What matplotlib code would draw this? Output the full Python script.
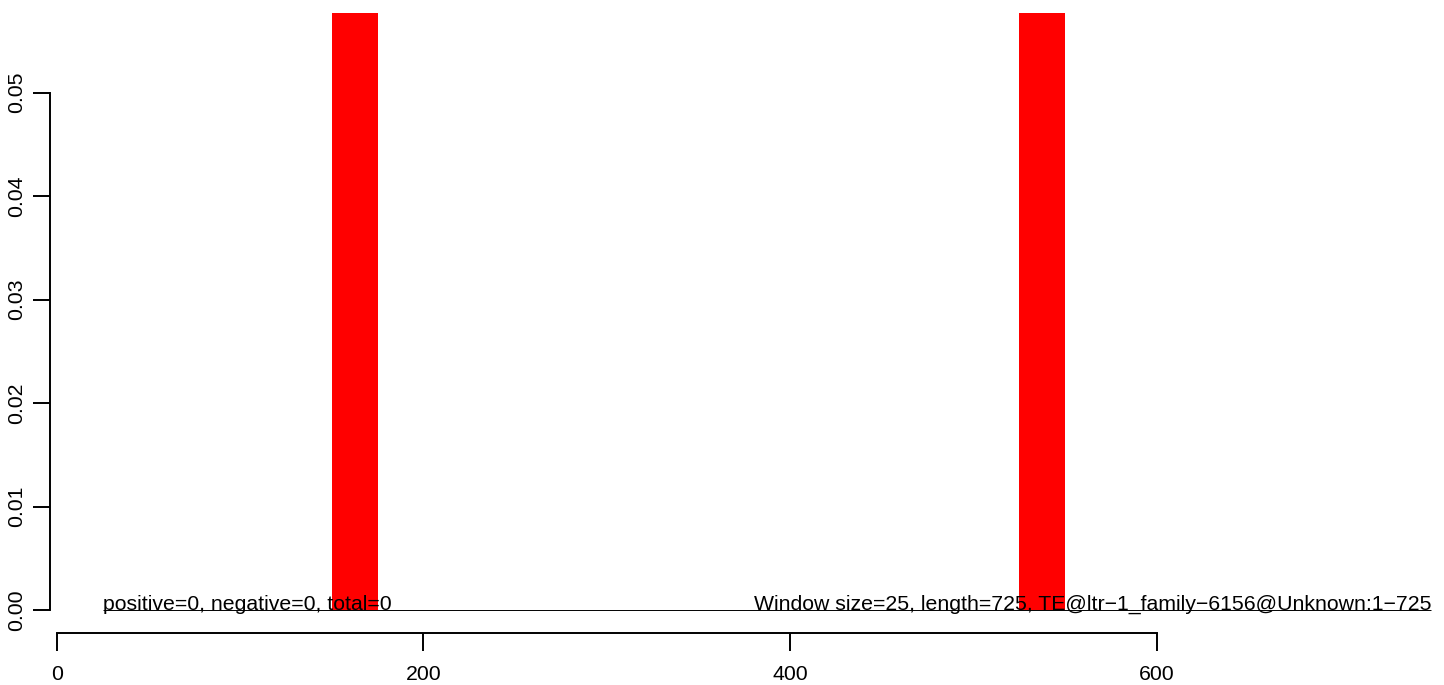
import matplotlib
matplotlib.use('Agg')
import matplotlib.pyplot as plt

# --- DATA ---
window_size = 25
seq_length = 725
bar_starts = [150, 525]
bar_heights = [0.07, 0.07]   # run past the top of the plot, clipped like the original
baseline_span = [25, 750]
x_ticks = [0, 200, 400, 600]
y_ticks = [0.00, 0.01, 0.02, 0.03, 0.04, 0.05]
left_note = 'positive=0, negative=0, total=0'
right_note = 'Window size=25, length=725, TE@ltr\u22121_family\u22126156@Unknown:1\u2212725'

plt.rcParams['font.family'] = ['Liberation Sans', 'DejaVu Sans']
FS = 15.3

W, H = 1444, 685
fig = plt.figure(figsize=(W / 100, H / 100), dpi=100)
ax = fig.add_axes([50 / W, 1 - 633 / H, (1440 - 50) / W, (633 - 13) / H])

# bars (red windows)
ax.bar(bar_starts, bar_heights, width=window_size, align='edge',
       color='#ff0000', edgecolor='none', zorder=1)

# zero line over the sequence
ax.hlines(0, baseline_span[0], baseline_span[1], color='black', lw=0.7, zorder=2)

ax.text(baseline_span[0], 0, left_note, ha='left', va='baseline', fontsize=FS, zorder=3)
ax.text(baseline_span[1], 0, right_note, ha='right', va='baseline', fontsize=FS, zorder=3)

# axis limits: x tick 0 at px 57, 200 units = 366.5 px; y 0 at px 610, 0.01 = 103.6 px
ax.set_xlim(-3.8, 754.7)
ax.set_ylim(-0.00222, 0.0577)

for side in ['top', 'right']:
    ax.spines[side].set_visible(False)
ax.spines['left'].set_bounds(0, 0.05)
ax.spines['bottom'].set_bounds(0, 600)
ax.spines['left'].set_linewidth(1.4)
ax.spines['bottom'].set_linewidth(1.4)

ax.set_xticks(x_ticks)
ax.set_xticklabels([str(v) for v in x_ticks])
ax.set_yticks(y_ticks)
ax.set_yticklabels(['%.2f' % v for v in y_ticks])

ax.tick_params(axis='x', direction='out', length=13, width=1.4, pad=10, labelsize=FS)
ax.tick_params(axis='y', direction='out', length=12, width=1.4, pad=5, labelsize=FS,
               labelrotation=90)
for lab in ax.get_yticklabels():
    lab.set_va('center')

fig.savefig('out.png', dpi=100)
